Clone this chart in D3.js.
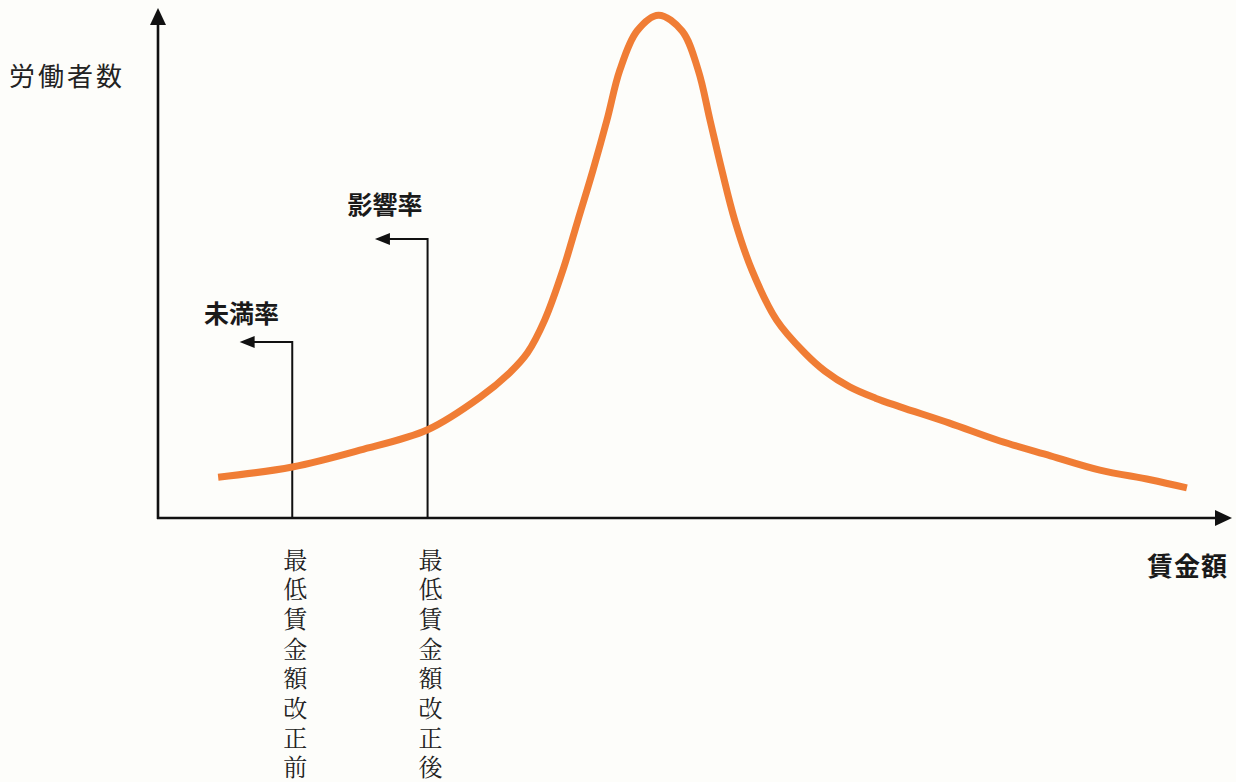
<!DOCTYPE html>
<html><head><meta charset="utf-8">
<script src="https://cdn.jsdelivr.net/npm/d3@7"></script>
<style>
html,body{margin:0;padding:0;background:#fdfdfa;}
svg{display:block;}
</style></head>
<body>
<svg id="chart" width="1236" height="782"></svg>
<script>
// ---- data ----
const wage    = [5.6, 12.5, 18.8, 25.1, 30.0, 32.8, 34.4, 36.0, 37.7, 39.1, 40.5, 41.8, 43.0, 44.6, 46.6, 48.8, 50.3, 51.4, 52.5, 53.7, 55.3, 57.6, 60.2, 62.1, 64.4, 66.8, 69.1, 73.7, 78.4, 83.1, 87.7, 92.4, 95.8];
const workers = [8.0, 10.0, 13.3, 17.3, 23.7, 28.6, 32.4, 38.8, 48.6, 58.4, 68.2, 78.0, 87.8, 95.5, 98.6, 95.5, 87.8, 78.0, 68.2, 58.4, 48.6, 38.8, 32.4, 28.8, 25.7, 23.5, 21.8, 18.6, 15.1, 12.2, 9.4, 7.5, 5.9];
const markerLabels = ["未満率", "影響率"];
const markerWage   = [12.5, 25.1];
const markerTop    = [34.5, 54.7];
const arrowTip     = [7.6, 20.2];
const markerCaptions = ["最低賃金額改正前", "最低賃金額改正後"];
const yAxisTitle = "労働者数";
const xAxisTitle = "賃金額";

// ---- scales ----
const svg = d3.select("#chart");
const x = d3.scaleLinear().domain([0, 100]).range([158, 1232]);
const y = d3.scaleLinear().domain([0, 100]).range([518, 8]);

const ink = "#111";

// axes
svg.append("line").attr("x1", x(0)).attr("x2", x(0)).attr("y1", y(0) + 1).attr("y2", y(100) + 14)
  .attr("stroke", ink).attr("stroke-width", 2.6);
svg.append("path").attr("d", `M${x(0)},${y(100)} L${x(0) - 8},${y(100) + 17} L${x(0) + 8},${y(100) + 17}Z`).attr("fill", ink);

svg.append("line").attr("x1", x(0) - 1).attr("x2", x(100) - 14).attr("y1", y(0)).attr("y2", y(0))
  .attr("stroke", ink).attr("stroke-width", 2.6);
svg.append("path").attr("d", `M${x(100)},${y(0)} L${x(100) - 17},${y(0) - 8} L${x(100) - 17},${y(0) + 8}Z`).attr("fill", ink);

// marker lines with arrows
const labelDx = [2, 10], labelDy = [-30, -36];
markerWage.forEach((w, i) => {
  const xm = x(w), yt = y(markerTop[i]), xt = x(arrowTip[i]);
  svg.append("path")
    .attr("d", `M${xm},${y(0)} L${xm},${yt} L${xt + 14},${yt}`)
    .attr("fill", "none").attr("stroke", ink).attr("stroke-width", 2);
  svg.append("path")
    .attr("d", `M${xt},${yt} L${xt + 15},${yt - 6} L${xt + 15},${yt + 6}Z`).attr("fill", ink);
  svg.append("text").attr("x", xt + labelDx[i]).attr("y", yt + labelDy[i])
    .attr("text-anchor", "middle")
    .attr("font-family", "'Noto Sans CJK JP', sans-serif").attr("font-size", 25).attr("font-weight", 700)
    .attr("fill", "#1a1a1a").attr("dominant-baseline", "central").text(markerLabels[i]);
  const chars = Array.from(markerCaptions[i]);
  svg.append("g").selectAll("text").data(chars).join("text")
    .attr("x", xm + 3).attr("y", (d, k) => 558 + k * 29.7)
    .attr("text-anchor", "middle").attr("dominant-baseline", "central")
    .attr("font-family", "'Noto Serif CJK JP', 'Noto Sans CJK JP', serif").attr("font-size", 24)
    .attr("fill", "#222").text(d => d);
});

// curve
const line = d3.line().x((d, i) => x(wage[i])).y(d => y(d)).curve(d3.curveCatmullRom.alpha(0.5));
svg.append("path").datum(workers).attr("d", line)
  .attr("fill", "none").attr("stroke", "#f07d35").attr("stroke-width", 7).attr("stroke-linecap", "butt");

// titles
svg.append("text").attr("x", 9).attr("y", 74).attr("dominant-baseline", "central")
  .attr("font-family", "'Noto Sans CJK JP', sans-serif").attr("font-size", 26).attr("letter-spacing", 3)
  .attr("fill", "#222").text(yAxisTitle);
svg.append("text").attr("x", 1228).attr("y", 564).attr("text-anchor", "end").attr("dominant-baseline", "central")
  .attr("font-family", "'Noto Sans CJK JP', sans-serif").attr("font-size", 26).attr("font-weight", 700)
  .attr("letter-spacing", 1).attr("fill", "#1a1a1a").text(xAxisTitle);
</script>
</body></html>
